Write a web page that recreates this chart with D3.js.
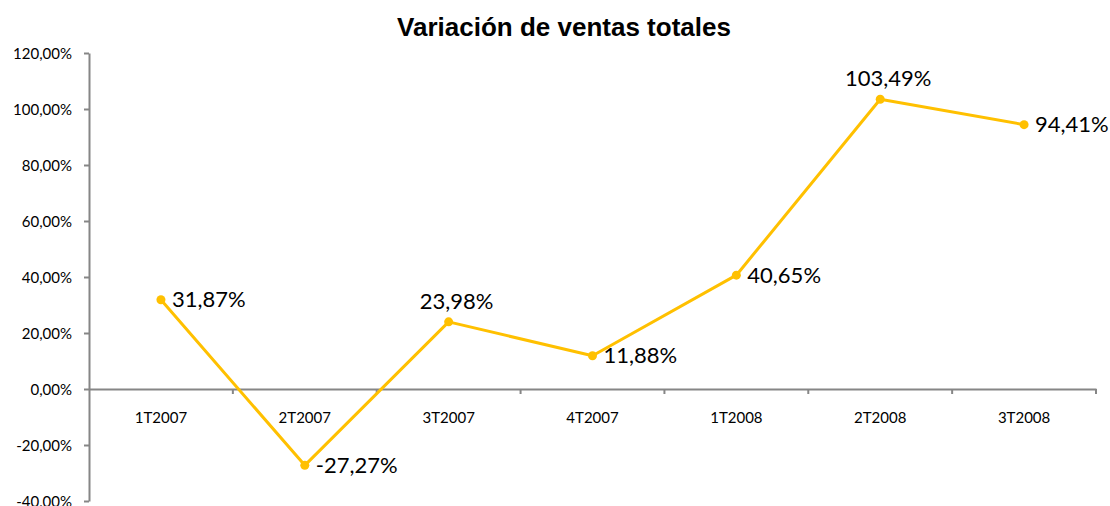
<!DOCTYPE html>
<html>
<head>
<meta charset="utf-8">
<script src="https://cdn.jsdelivr.net/npm/d3@7"></script>
<style>
  body { margin: 0; background: #fff; }
  svg { display: block; }
  .tick-label { font-family: Lato, "Open Sans", sans-serif; font-size: 15px; fill: #000; }
  .data-label { font-family: Lato, "Open Sans", sans-serif; font-size: 22px; fill: #000; }
  .title { font-family: "Liberation Sans", Arial, sans-serif; font-size: 26px; font-weight: bold; }
</style>
</head>
<body>
<div id="chart"></div>
<script>
// data
const categories = ["1T2007", "2T2007", "3T2007", "4T2007", "1T2008", "2T2008", "3T2008"];
const variation = [31.87, -27.27, 23.98, 11.88, 40.65, 103.49, 94.41];
const yTicks = [-40, -20, 0, 20, 40, 60, 80, 100, 120];
const labelSide = ["right", "right", "top", "right", "right", "top", "right"];

const width = 1110, height = 506;
const margin = {top: 53, right: 14, bottom: 5, left: 89};

const fmt = v => v.toFixed(2).replace(".", ",") + "%";

const svg = d3.select("#chart").append("svg")
    .attr("width", width)
    .attr("height", height);

svg.append("text")
    .attr("class", "title")
    .attr("x", 564)
    .attr("y", 36)
    .attr("text-anchor", "middle")
    .text("Variación de ventas totales");

const x = d3.scaleBand()
    .domain(categories)
    .range([margin.left, width - margin.right]);

const y = d3.scaleLinear()
    .domain([-40, 120])
    .range([height - margin.bottom, margin.top]);

const axisColor = "#868686";

// y axis
const yAxis = svg.append("g")
    .attr("transform", `translate(${margin.left},0)`)
    .call(d3.axisLeft(y).tickValues(yTicks).tickFormat(fmt).tickSize(5).tickSizeOuter(0));
yAxis.attr("font-family", null).attr("font-size", null);
yAxis.select(".domain").attr("stroke", axisColor).attr("stroke-width", 2);
yAxis.selectAll(".tick line").attr("stroke", axisColor).attr("stroke-width", 2);
yAxis.selectAll(".tick text")
    .attr("class", "tick-label")
    .attr("x", -17)
    .attr("dy", "0.35em")
    .attr("fill", "#000");

// x axis at zero
const xAxis = svg.append("g")
    .attr("transform", `translate(0,${y(0)})`)
    .call(d3.axisBottom(x).tickSize(0).tickSizeOuter(0).tickPadding(23));
xAxis.attr("font-family", null).attr("font-size", null);
xAxis.select(".domain").attr("stroke", axisColor).attr("stroke-width", 2);
xAxis.selectAll(".tick text").attr("class", "tick-label").attr("fill", "#000");

// boundary ticks between categories
const bounds = categories.map(c => x(c) + x.bandwidth());
xAxis.selectAll(".bound")
    .data(bounds)
    .enter()
    .append("line")
    .attr("class", "bound")
    .attr("x1", d => d).attr("x2", d => d)
    .attr("y1", 0).attr("y2", 5)
    .attr("stroke", axisColor)
    .attr("stroke-width", 2);

// line series
const pts = categories.map((c, i) => ({c: c, v: variation[i], side: labelSide[i]}));
const lineColor = "#FFC000";

svg.append("path")
    .datum(pts)
    .attr("fill", "none")
    .attr("stroke", lineColor)
    .attr("stroke-width", 3)
    .attr("stroke-linejoin", "round")
    .attr("d", d3.line().x(d => x(d.c) + x.bandwidth() / 2).y(d => y(d.v)));

svg.selectAll(".dot")
    .data(pts)
    .enter()
    .append("circle")
    .attr("class", "dot")
    .attr("cx", d => x(d.c) + x.bandwidth() / 2)
    .attr("cy", d => y(d.v))
    .attr("r", 4.5)
    .attr("fill", lineColor);

svg.selectAll(".data-label")
    .data(pts)
    .enter()
    .append("text")
    .attr("class", "data-label")
    .attr("x", d => x(d.c) + x.bandwidth() / 2 + (d.side === "right" ? 11 : 8))
    .attr("y", d => y(d.v) + (d.side === "right" ? 0 : -21))
    .attr("dy", "0.35em")
    .attr("text-anchor", d => d.side === "right" ? "start" : "middle")
    .text(d => fmt(d.v));
</script>
</body>
</html>
